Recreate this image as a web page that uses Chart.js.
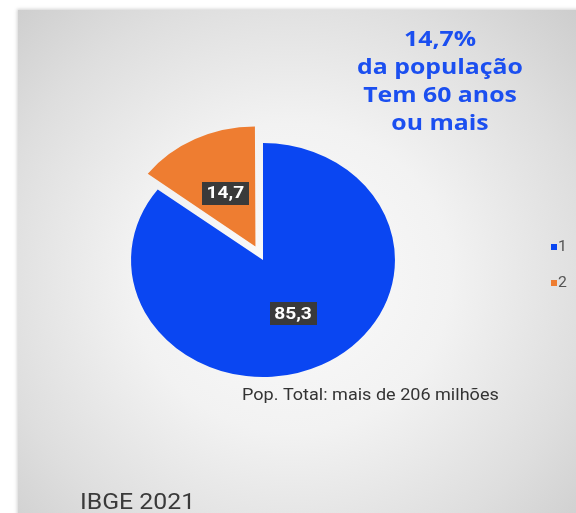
<!DOCTYPE html>
<html>
<head>
<meta charset="utf-8">
<script src="https://cdn.jsdelivr.net/npm/chart.js@4/dist/chart.umd.min.js"></script>
<style>
  html, body { margin: 0; padding: 0; background: #ffffff; width: 576px; height: 513px; overflow: hidden; }
  #panel {
    position: absolute; left: 18px; top: 10px; width: 570px; height: 515px;
    background: radial-gradient(ellipse 70% 75% at 48% 52%, #fbfbfb 0%, #f2f2f2 40%, #dedede 75%, #cdcdcd 100%);
    box-shadow: 0 0 3px 1px rgba(200,200,200,0.8);
  }
  #wrap { position: absolute; left: 0; top: 0; width: 576px; height: 513px; }
</style>
</head>
<body>
<div id="panel"></div>
<div id="wrap"><canvas id="c" width="576" height="513"></canvas></div>
<script>
// ---- data ----
const categories = ['1', '2'];
const values = [85.3, 14.7];
const valueLabels = ['85,3', '14,7'];
const titleLines = ['14,7%', 'da população', 'Tem 60 anos', 'ou mais'];
const noteText = 'Pop. Total: mais de 206 milhões';
const sourceText = 'IBGE 2021';

const colors = ['#0a46f2', '#ee7d31'];
const X_STRETCH = 1.128;

function stretchedText(ctx, text, x, y, align) {
  ctx.save();
  ctx.translate(x, y);
  ctx.scale(X_STRETCH, 1);
  ctx.textAlign = align;
  ctx.fillText(text, 0, 0);
  ctx.restore();
}

const stretchPlugin = {
  id: 'stretch',
  beforeDatasetsDraw(chart) {
    const arc = chart.getDatasetMeta(0).data[0];
    const ctx = chart.ctx;
    ctx.save();
    ctx.translate(arc.x, arc.y);
    ctx.scale(X_STRETCH, 1);
    ctx.translate(-arc.x, -arc.y);
  },
  afterDatasetsDraw(chart) {
    chart.ctx.restore();
  }
};

const decorPlugin = {
  id: 'decor',
  afterDraw(chart) {
    const ctx = chart.ctx;
    const meta = chart.getDatasetMeta(0);
    ctx.save();
    // value labels
    meta.data.forEach((arc, i) => {
      const mid = (arc.startAngle + arc.endAngle) / 2;
      const off = (arc.options.offset || 0) / 4;
      const d = off + arc.outerRadius * 0.51;
      const x = arc.x + Math.cos(mid) * d * X_STRETCH;
      const y = arc.y + Math.sin(mid) * d;
      ctx.font = 'bold 17px Roboto, "Open Sans", sans-serif';
      const w = (ctx.measureText(valueLabels[i]).width + 8) * X_STRETCH;
      const h = 23;
      ctx.fillStyle = '#3a3a3a';
      ctx.fillRect(Math.round(x - w / 2), Math.round(y - h / 2), Math.round(w), h);
      ctx.fillStyle = '#ffffff';
      ctx.textBaseline = 'middle';
      stretchedText(ctx, valueLabels[i], x, y + 1, 'center');
    });
    ctx.textBaseline = 'alphabetic';
    // title
    ctx.fillStyle = '#1b4ff0';
    ctx.font = 'bold 22px "Open Sans", sans-serif';
    const baselines = [46, 74, 102, 130];
    titleLines.forEach((t, i) => stretchedText(ctx, t, 440, baselines[i], 'center'));
    // note
    ctx.fillStyle = '#333333';
    ctx.font = '16px Roboto, sans-serif';
    stretchedText(ctx, noteText, 242, 400, 'left');
    // source
    ctx.fillStyle = '#3a3a3a';
    ctx.font = '22px Roboto, sans-serif';
    stretchedText(ctx, sourceText, 80, 509, 'left');
    // legend
    const ly = [247, 283];
    categories.forEach((c, i) => {
      ctx.fillStyle = colors[i];
      ctx.fillRect(551, ly[i] - 3, 6, 6);
      ctx.fillStyle = '#555555';
      ctx.font = '14px Roboto, sans-serif';
      ctx.textBaseline = 'middle';
      stretchedText(ctx, c, 558, ly[i] + 0.5, 'left');
      ctx.textBaseline = 'alphabetic';
    });
    ctx.restore();
  }
};

new Chart(document.getElementById('c'), {
  type: 'pie',
  data: {
    labels: categories,
    datasets: [{
      data: values,
      backgroundColor: colors,
      borderWidth: 0,
      offset: [0, 60],
      radius: 117
    }]
  },
  options: {
    responsive: false,
    animation: false,
    layout: { padding: { left: 0, right: 50, top: 7, bottom: 0 } },
    plugins: {
      legend: { display: false },
      tooltip: { enabled: false },
      title: { display: false }
    }
  },
  plugins: [stretchPlugin, decorPlugin]
});
</script>
</body>
</html>
